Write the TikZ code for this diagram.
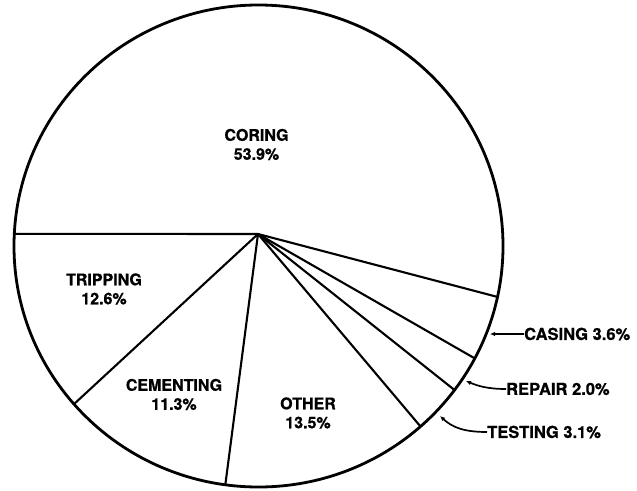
\documentclass[tikz,border=0pt]{standalone}
\usepackage{fontspec}
\setmainfont{TeX Gyre Heros}[BoldFeatures={FakeBold=0.7}]
\usetikzlibrary{arrows.meta,calc}
\begin{document}
\begin{tikzpicture}[x=1pt,y=-1pt,
  outline/.style={line width=2.8pt},
  spoke/.style={line width=2.1pt},
  lbl/.style={font=\bfseries\fontsize{16}{19}\selectfont, align=center, inner sep=0pt},
  side/.style={font=\bfseries\fontsize{16.5}{19}\selectfont, inner sep=0pt, anchor=west},
  pointer/.style={line width=1.7pt, -{Latex[length=5pt,width=4.5pt]}}
]
\useasboundingbox (0,0) rectangle (637,490);
\coordinate (E) at (258.5,246);
\coordinate (C) at (258,234);
\draw[outline] (E) ellipse [x radius=244.5pt, y radius=241pt];
\coordinate (p1) at ($(E)+(177.1:244.5pt and 241pt)$);
\coordinate (p2) at ($(E)+(221.0:244.5pt and 241pt)$);
\coordinate (p3) at ($(E)+(262.2:244.5pt and 241pt)$);
\coordinate (p4) at ($(E)+(-48.5:244.5pt and 241pt)$);
\coordinate (p5) at ($(E)+(-36.7:244.5pt and 241pt)$);
\coordinate (p6) at ($(E)+(-27.8:244.5pt and 241pt)$);
\coordinate (p7) at ($(E)+(-12.2:244.5pt and 241pt)$);
\foreach \p in {p1,p2,p3,p4,p5,p6,p7} \draw[spoke, line cap=round] (C) -- (\p);

\node[lbl] (coring) at (256.5,144.5) {CORING\\53.9\%};
\node[lbl] (tripping) at (104,289) {TRIPPING\\12.6\%};
\node[lbl] (cementing) at (174,394.5) {CEMENTING\\11.3\%};
\node[lbl] (other) at (308,413) {OTHER\\13.5\%};

\node[side] (casing) at (524,334) {CASING 3.6\%};
\node[side] (repair) at (506,389) {REPAIR 2.0\%};
\node[side] (testing) at (487,432) {TESTING 3.1\%};
\coordinate (casingtip) at (490,334);
\coordinate (repairtip) at (466,381);
\coordinate (testingtip) at (440,416);
\draw[pointer] (casing.west) -- (casingtip);
\draw[pointer] (repair.west) .. controls (488,389) and (478,386) .. (repairtip);
\draw[pointer] (testing.west) .. controls (463,432) and (452,427) .. (testingtip);
\end{tikzpicture}
\end{document}
